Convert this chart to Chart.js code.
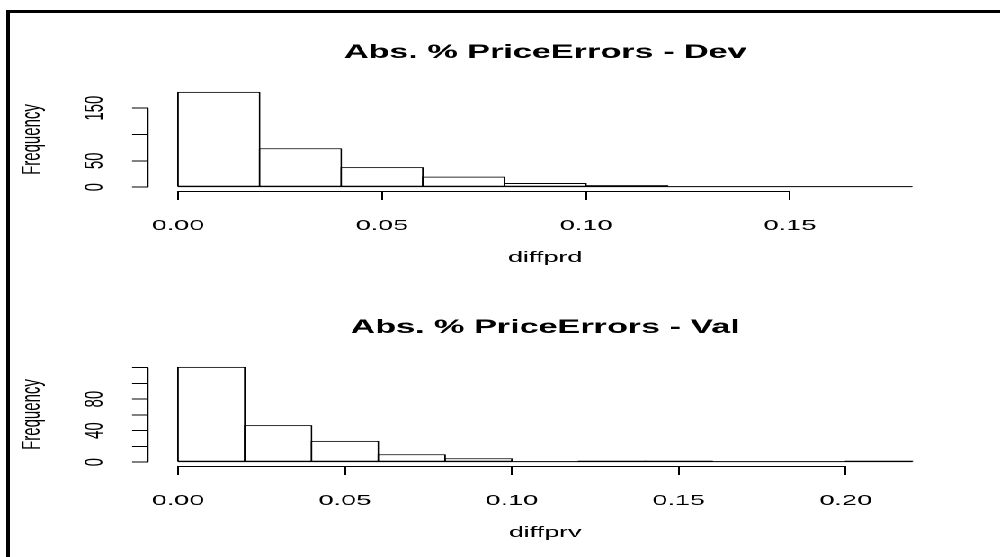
<!DOCTYPE html>
<html>
<head>
<meta charset="utf-8">
<script src="https://cdn.jsdelivr.net/npm/chart.js@4.4.1/dist/chart.umd.min.js"></script>
<style>
html, body { margin: 0; padding: 0; background: #fff; width: 1000px; height: 557px; overflow: hidden; }
#frame { position: absolute; left: 6px; top: 10px; width: 1100px; height: 700px;
         border-top: 3px solid #000; border-left: 4px solid #000; box-sizing: border-box; }
#stage { position: absolute; left: 0; top: 0; width: 556px; height: 557px;
         transform: scaleX(1.7986); transform-origin: 0 0; }
#stage canvas { position: absolute; left: 0; }
</style>
</head>
<body>
<div id="frame"></div>
<div id="stage">
  <canvas id="dev" width="556" height="282" style="top:0px"></canvas>
  <canvas id="val" width="556" height="282" style="top:275px"></canvas>
</div>
<script>
// ---------- data ----------
const binWidth = 0.02;

const devBinStarts = [0.00, 0.02, 0.04, 0.06, 0.08, 0.10, 0.12, 0.14, 0.16];
const devCounts    = [181, 74, 38, 20, 8, 4, 0, 1, 1];
const devXTicks    = [0.00, 0.05, 0.10, 0.15];
const devYTicks    = [0, 50, 100, 150];
const devYLabels   = ['0', '50', '', '150'];

const valBinStarts = [0.00, 0.02, 0.04, 0.06, 0.08, 0.10, 0.12, 0.14, 0.16, 0.18, 0.20];
const valCounts    = [121, 47, 27, 10, 5, 1, 2, 2, 0, 0, 2];
const valXTicks    = [0.00, 0.05, 0.10, 0.15, 0.20];
const valYTicks    = [0, 20, 40, 60, 80, 100, 120];
const valYLabels   = ['0', '', '40', '', '80', '', ''];

// ---------- layout (unstretched canvas units) ----------
const SX = 1000 / 556;
const CW = 556, CH = 282;
const LEFT = 148.6 / SX, RIGHT = 941.8 / SX;
const AREA_TOP = 88, AREA_BOTTOM = 191;
const X_SCALE_H = 76;
const FONT = "'Liberation Sans', Arial, Helvetica, sans-serif";
const Y_TL = 9.2, X_TL = 9;
const Y_LABEL_CX = 95 / SX;
const TITLE_SIZE = 19, TITLE_CY = 53;

Chart.defaults.color = '#000';
Chart.defaults.font.family = FONT;
Chart.defaults.font.size = 15;

const rAxes = {
  id: 'rAxes',
  afterDatasetsDraw(chart, args, opts) {
    const { ctx, chartArea, scales: { x, y } } = chart;
    ctx.save();
    ctx.strokeStyle = '#000';
    ctx.lineWidth = 1;
    ctx.beginPath();
    // baseline of histogram (covers empty bins)
    const yb = y.getPixelForValue(0) - 0.5;
    ctx.moveTo(x.getPixelForValue(opts.firstEdge), yb);
    ctx.lineTo(x.getPixelForValue(opts.lastEdge), yb);
    // x axis line from first to last tick
    const ya = Math.round(chartArea.bottom) + 0.5;
    ctx.moveTo(x.getPixelForValue(opts.xTicks[0]), ya);
    ctx.lineTo(x.getPixelForValue(opts.xTicks[opts.xTicks.length - 1]), ya);
    // y axis line from first to last tick
    const xa = chartArea.left - 0.5;
    ctx.moveTo(xa, y.getPixelForValue(opts.yTicks[0]));
    ctx.lineTo(xa, y.getPixelForValue(opts.yTicks[opts.yTicks.length - 1]));
    ctx.stroke();
    ctx.restore();
  }
};

function makeHist(id, titleText, xLabel, binStarts, counts, xTicks, yTicks, yLabels) {
  const firstEdge = binStarts[0];
  const lastEdge = binStarts[binStarts.length - 1] + binWidth;
  const span = lastEdge - firstEdge;
  const xmin = firstEdge - 0.04 * span, xmax = lastEdge + 0.04 * span;
  const cmax = Math.max(...counts);
  const ymin = -0.04 * cmax, ymax = 1.04 * cmax;
  const binPx = binWidth * (RIGHT - LEFT) / (xmax - xmin);

  const mctx = document.createElement('canvas').getContext('2d');
  mctx.font = '15px ' + FONT;
  const widest = Math.max(...yLabels.map(s => mctx.measureText(s).width));
  const yPad = LEFT - Y_TL - widest / 2 - Y_LABEL_CX;
  const tHalf = TITLE_SIZE * 1.2 / 2;

  return new Chart(document.getElementById(id), {
    type: 'bar',
    data: {
      datasets: [{
        data: binStarts.map((b, i) => ({ x: b + binWidth / 2, y: counts[i] })),
        backgroundColor: '#ffffff',
        borderColor: '#000000',
        borderWidth: 1,
        borderSkipped: false,
        barPercentage: (binPx + 1) / binPx,
        categoryPercentage: 1,
        inflateAmount: 0
      }]
    },
    options: {
      responsive: false,
      animation: false,
      devicePixelRatio: 2,
      events: [],
      layout: { padding: { left: 0, right: CW - RIGHT, top: 0, bottom: CH - AREA_BOTTOM - X_SCALE_H } },
      plugins: {
        legend: { display: false },
        tooltip: { enabled: false },
        title: {
          display: true, text: titleText, fullSize: false, color: '#000',
          font: { size: TITLE_SIZE, weight: 'bold', lineHeight: 1.2 },
          padding: { top: TITLE_CY - tHalf, bottom: AREA_TOP - TITLE_CY - tHalf }
        },
        rAxes: { firstEdge, lastEdge, xTicks, yTicks }
      },
      scales: {
        x: {
          type: 'linear', min: xmin, max: xmax, offset: false,
          afterBuildTicks: s => { s.ticks = xTicks.map(v => ({ value: v })); },
          afterFit: s => { s.height = X_SCALE_H; },
          grid: { offset: false, drawOnChartArea: false, drawTicks: true, tickLength: X_TL, color: '#000', lineWidth: 1 },
          border: { display: false },
          ticks: { autoSkip: false, maxRotation: 0, minRotation: 0, padding: 17,
                   callback: v => Number(v).toFixed(2), font: { size: 15 } },
          title: { display: true, text: xLabel, padding: { top: 0, bottom: 0 }, font: { size: 15 } }
        },
        y: {
          type: 'linear', min: ymin, max: ymax,
          afterBuildTicks: s => { s.ticks = yTicks.map(v => ({ value: v })); },
          afterFit: s => { s.width = LEFT; },
          grid: { drawOnChartArea: false, drawTicks: true, tickLength: Y_TL, color: '#000', lineWidth: 1 },
          border: { display: false },
          ticks: { autoSkip: false, minRotation: 90, maxRotation: 90, crossAlign: 'center',
                   padding: yPad, callback: (v, i) => yLabels[i], font: { size: 15 } },
          title: { display: true, text: 'Frequency', padding: { top: 9, bottom: 0 }, font: { size: 15 } }
        }
      }
    },
    plugins: [rAxes]
  });
}

makeHist('dev', 'Abs. % PriceErrors - Dev', 'diffprd', devBinStarts, devCounts, devXTicks, devYTicks, devYLabels);
makeHist('val', 'Abs. % PriceErrors - Val', 'diffprv', valBinStarts, valCounts, valXTicks, valYTicks, valYLabels);
</script>
</body>
</html>
